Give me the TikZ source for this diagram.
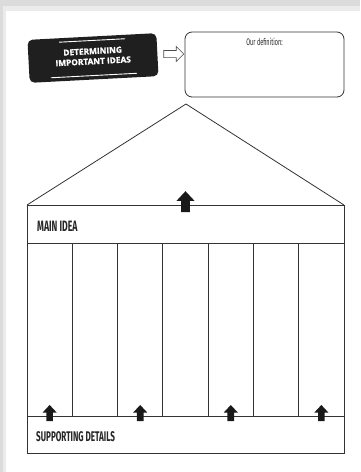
\documentclass[tikz,border=0pt]{standalone}
\usepackage{fontspec}
\setmainfont{Open Sans}
\newfontfamily\titlefont[FakeBold=1.2]{Open Sans}
\newfontfamily\handfont[FakeStretch=0.58]{Fira Sans}
\usetikzlibrary{shapes.arrows, positioning, calc}

\tikzset{
    line/.style={draw=black!80, line width=0.8pt},
    handtext/.style={font=\handfont, text=black!85, inner sep=0pt},
    pillarup/.pic={
        \fill[black!90] (-3.3,0) -- (-3.3,-8.5) -- (-7,-8.5) -- (0,-16) -- (7,-8.5) -- (3.3,-8.5) -- (3.3,0) -- cycle;
    }
}

\begin{document}
\begin{tikzpicture}[x=1pt, y=-1pt]
    % Units: 1 = one pixel of the 360 x 472 sheet, y grows downwards.
    \useasboundingbox (0,0) rectangle (360,472);

    % Sheet with a soft shadow on the top and left
    \fill[black!14] (0,0) rectangle (360,472);
    \fill[black!8] (3,6) rectangle (360,472);
    \fill[white] (6,11) rectangle (360,472);

    % Title label, slightly tilted
    \node[fill=black!88, rounded corners=5pt, rotate=3, minimum width=129pt, minimum height=43pt,
          text=white, align=center, font=\titlefont\bfseries\fontsize{8.3}{10.2}\selectfont, inner sep=0pt]
        (title) at (93,58) {\rule{66pt}{0.9pt}\\[3pt]DETERMINING\\IMPORTANT IDEAS\\[1.5pt]\rule{86pt}{0.9pt}};

    % Hollow arrow towards the definition box
    \node[single arrow, draw=black!70, line width=0.6pt, fill=white, minimum width=15pt,
          single arrow head extend=2pt, minimum height=20pt, inner sep=1.5pt] (toward) at (172,54) {};

    % Definition box
    \node[line, rounded corners=7pt, minimum width=159pt, minimum height=65pt, inner sep=0pt]
        (defbox) at (264.5,64.5) {};
    \node[handtext, font=\handfont\fontsize{9.5}{10}\selectfont, below=6pt of defbox.north] (deflabel) {Our definition:};

    % Roof and body of the house
    \coordinate (eaveL) at (27,205);
    \coordinate (eaveR) at (344,205);
    \coordinate (apex) at (186,104);
    \draw[line] (eaveL) -- (apex) -- (eaveR);
    \draw[line] (eaveL) rectangle (344,453);
    \draw[line] (27,243) -- (344,243);
    \draw[line] (27,416) -- (344,416);

    % Pillars
    \foreach \k in {1,...,6}{
        \draw[line] ({27+\k*317/7},243) -- ({27+\k*317/7},416);
    }

    % Band labels
    \node[handtext, font=\handfont\bfseries\fontsize{15}{15}\selectfont, anchor=west] (mainidea) at (37,226) {MAIN IDEA};
    \node[handtext, font=\handfont\bfseries\fontsize{14}{14}\selectfont, anchor=west] (details) at (36,437) {SUPPORTING DETAILS};

    % Arrows pushing up
    \pic[scale=1.3] at (185.5,212) {pillarup};
    \foreach \k in {0,2,4,6}{
        \pic at ({27+(\k+0.5)*317/7},421) {pillarup};
    }
\end{tikzpicture}
\end{document}
